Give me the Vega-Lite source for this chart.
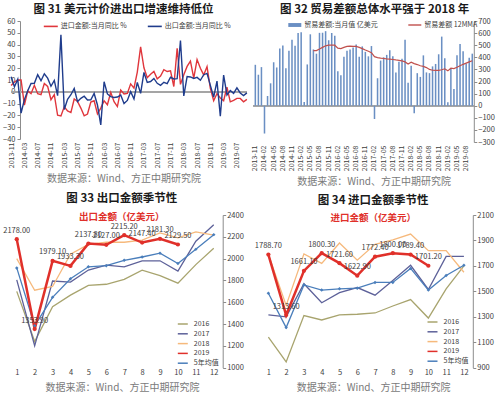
{
"$schema": "https://vega.github.io/schema/vega-lite/v6.json",
"autosize": {"type": "none"},
"padding": {"left": 7.8, "top": 21, "right": 492.2, "bottom": 376},
"background": "white",
"bounds": "flush",
"spacing": 194,
"resolve": {"scale": {"color": "independent", "fill": "independent", "stroke": "independent"}, "legend": {"color": "independent", "fill": "independent", "stroke": "independent"}},
"config": {
  "view": {"stroke": null},
  "font": "Noto Sans CJK SC",
  "title": {"fontSize": 11.5, "fontWeight": "bold", "color": "#1a1a1a", "font": "Noto Sans CJK SC"},
  "axis": {"labelFont": "Noto Sans CJK SC", "labelColor": "#404040", "domainColor": "#8c8c8c", "tickColor": "#8c8c8c", "grid": false, "titleFont": "Noto Sans CJK SC", "titleFontSize": 10, "titleFontWeight": "normal", "titleColor": "#7a7a7a", "labelOverlap": false},
  "legend": {"labelFont": "Noto Sans CJK SC", "labelColor": "#404040", "labelFontSize": 7}
},
"datasets": {
  "p1": [
{"m":"2013-11","imp":5.3,"exp":12.7},{"m":"2013-12","imp":8.3,"exp":4.3},
{"m":"2014-01","imp":10.0,"exp":10.6},{"m":"2014-02","imp":10.1,"exp":-18.1},{"m":"2014-03","imp":-11.3,"exp":-6.6},{"m":"2014-04","imp":0.8,"exp":0.9},{"m":"2014-05","imp":-1.6,"exp":7.0},{"m":"2014-06","imp":5.5,"exp":7.2},{"m":"2014-07","imp":-1.6,"exp":14.5},{"m":"2014-08","imp":-2.4,"exp":9.4},{"m":"2014-09","imp":7.0,"exp":15.3},{"m":"2014-10","imp":4.6,"exp":11.6},{"m":"2014-11","imp":-6.7,"exp":4.7},{"m":"2014-12","imp":-2.4,"exp":9.7},
{"m":"2015-01","imp":-19.9,"exp":-3.3},{"m":"2015-02","imp":-20.5,"exp":48.3},{"m":"2015-03","imp":-12.7,"exp":-15.0},{"m":"2015-04","imp":-16.2,"exp":-6.4},{"m":"2015-05","imp":-17.6,"exp":-2.5},{"m":"2015-06","imp":-6.1,"exp":2.8},{"m":"2015-07","imp":-8.1,"exp":-8.3},{"m":"2015-08","imp":-13.8,"exp":-5.5},{"m":"2015-09","imp":-20.4,"exp":-3.7},{"m":"2015-10","imp":-18.8,"exp":-6.9},{"m":"2015-11","imp":-8.7,"exp":-6.8},{"m":"2015-12","imp":-7.6,"exp":-1.4},
{"m":"2016-01","imp":-18.8,"exp":-11.2},{"m":"2016-02","imp":-13.8,"exp":-28.0},{"m":"2016-03","imp":-7.6,"exp":8.5},{"m":"2016-04","imp":-10.9,"exp":-1.8},{"m":"2016-05","imp":-0.4,"exp":-4.1},{"m":"2016-06","imp":-8.4,"exp":-4.8},{"m":"2016-07","imp":-12.5,"exp":-4.4},{"m":"2016-08","imp":1.5,"exp":-2.8},{"m":"2016-09","imp":-1.9,"exp":-10.0},{"m":"2016-10","imp":-1.4,"exp":-7.3},{"m":"2016-11","imp":6.7,"exp":0.1},{"m":"2016-12","imp":3.1,"exp":-6.1},
{"m":"2017-01","imp":16.7,"exp":7.9},{"m":"2017-02","imp":38.1,"exp":-1.3},{"m":"2017-03","imp":20.3,"exp":16.4},{"m":"2017-04","imp":11.9,"exp":8.0},{"m":"2017-05","imp":14.8,"exp":8.7},{"m":"2017-06","imp":17.2,"exp":11.3},{"m":"2017-07","imp":11.0,"exp":7.2},{"m":"2017-08","imp":13.3,"exp":5.5},{"m":"2017-09","imp":18.7,"exp":8.1},{"m":"2017-10","imp":17.2,"exp":6.9},{"m":"2017-11","imp":17.7,"exp":12.3},{"m":"2017-12","imp":4.5,"exp":10.9},
{"m":"2018-01","imp":36.9,"exp":11.1},{"m":"2018-02","imp":6.3,"exp":43.5},{"m":"2018-03","imp":14.4,"exp":-3.5},{"m":"2018-04","imp":21.5,"exp":12.9},{"m":"2018-05","imp":26.0,"exp":12.6},{"m":"2018-06","imp":11.5,"exp":11.3},{"m":"2018-07","imp":27.3,"exp":12.2},{"m":"2018-08","imp":20.0,"exp":9.8},{"m":"2018-09","imp":14.3,"exp":14.5},{"m":"2018-10","imp":21.4,"exp":15.6},{"m":"2018-11","imp":3.0,"exp":5.4},{"m":"2018-12","imp":-7.6,"exp":-4.4},
{"m":"2019-01","imp":-1.5,"exp":9.1},{"m":"2019-02","imp":-5.2,"exp":-20.7},{"m":"2019-03","imp":-7.6,"exp":14.2},{"m":"2019-04","imp":4.0,"exp":-2.7},{"m":"2019-05","imp":-8.5,"exp":1.1},{"m":"2019-06","imp":-7.3,"exp":-1.3},{"m":"2019-07","imp":-5.6,"exp":3.3},{"m":"2019-08","imp":-5.6,"exp":-1.0},{"m":"2019-09","imp":-8.5,"exp":-3.2},{"m":"2019-10","imp":-6.4,"exp":-0.9}
  ],
  "p2": [
{"m":"2013-11","bal":338},{"m":"2013-12","bal":256},{"m":"2014-01","bal":319},{"m":"2014-02","bal":-230},{"m":"2014-03","bal":80},{"m":"2014-04","bal":185},{"m":"2014-05","bal":359},{"m":"2014-06","bal":316},{"m":"2014-07","bal":473},{"m":"2014-08","bal":498},{"m":"2014-09","bal":310},{"m":"2014-10","bal":454},{"m":"2014-11","bal":545},{"m":"2014-12","bal":496},
{"m":"2015-01","bal":600},{"m":"2015-02","bal":606},{"m":"2015-03","bal":31},{"m":"2015-04","bal":341},{"m":"2015-05","bal":590},{"m":"2015-06","bal":465},{"m":"2015-07","bal":430},{"m":"2015-08","bal":602},{"m":"2015-09","bal":603},{"m":"2015-10","bal":616},{"m":"2015-11","bal":541},{"m":"2015-12","bal":601},
{"m":"2016-01","bal":578},{"m":"2016-02","bal":285},{"m":"2016-03","bal":252},{"m":"2016-04","bal":405},{"m":"2016-05","bal":455},{"m":"2016-06","bal":465},{"m":"2016-07","bal":480},{"m":"2016-08","bal":505},{"m":"2016-09","bal":405},{"m":"2016-10","bal":490},{"m":"2016-11","bal":445},{"m":"2016-12","bal":408},
{"m":"2017-01","bal":493},{"m":"2017-02","bal":-110},{"m":"2017-03","bal":227},{"m":"2017-04","bal":373},{"m":"2017-05","bal":400},{"m":"2017-06","bal":420},{"m":"2017-07","bal":459},{"m":"2017-08","bal":409},{"m":"2017-09","bal":275},{"m":"2017-10","bal":364},{"m":"2017-11","bal":387},{"m":"2017-12","bal":545},
{"m":"2018-01","bal":190},{"m":"2018-02","bal":330},{"m":"2018-03","bal":-62},{"m":"2018-04","bal":269},{"m":"2018-05","bal":238},{"m":"2018-06","bal":416},{"m":"2018-07","bal":275},{"m":"2018-08","bal":269},{"m":"2018-09","bal":325},{"m":"2018-10","bal":345},{"m":"2018-11","bal":425},{"m":"2018-12","bal":571},
{"m":"2019-01","bal":392},{"m":"2019-02","bal":28},{"m":"2019-03","bal":308},{"m":"2019-04","bal":138},{"m":"2019-05","bal":417},{"m":"2019-06","bal":510},{"m":"2019-07","bal":450},{"m":"2019-08","bal":348},{"m":"2019-09","bal":397},{"m":"2019-10","bal":430}
  ],
  "p2ma": [
{"m":"2015-06","ma":455},{"m":"2015-07","ma":455},{"m":"2015-08","ma":468},{"m":"2015-09","ma":482},{"m":"2015-10","ma":495},{"m":"2015-11","ma":500},{"m":"2015-12","ma":500},
{"m":"2016-01","ma":500},{"m":"2016-02","ma":476},{"m":"2016-03","ma":472},{"m":"2016-04","ma":482},{"m":"2016-05","ma":490},{"m":"2016-06","ma":492},{"m":"2016-07","ma":490},{"m":"2016-08","ma":490},{"m":"2016-09","ma":482},{"m":"2016-10","ma":472},{"m":"2016-11","ma":460},{"m":"2016-12","ma":450},
{"m":"2017-01","ma":438},{"m":"2017-02","ma":405},{"m":"2017-03","ma":398},{"m":"2017-04","ma":393},{"m":"2017-05","ma":390},{"m":"2017-06","ma":387},{"m":"2017-07","ma":385},{"m":"2017-08","ma":382},{"m":"2017-09","ma":378},{"m":"2017-10","ma":375},{"m":"2017-11","ma":370},{"m":"2017-12","ma":362},
{"m":"2018-01","ma":345},{"m":"2018-02","ma":360},{"m":"2018-03","ma":348},{"m":"2018-04","ma":340},{"m":"2018-05","ma":330},{"m":"2018-06","ma":325},{"m":"2018-07","ma":315},{"m":"2018-08","ma":300},{"m":"2018-09","ma":293},{"m":"2018-10","ma":292},{"m":"2018-11","ma":292},{"m":"2018-12","ma":297},
{"m":"2019-01","ma":305},{"m":"2019-02","ma":288},{"m":"2019-03","ma":310},{"m":"2019-04","ma":307},{"m":"2019-05","ma":318},{"m":"2019-06","ma":330},{"m":"2019-07","ma":342},{"m":"2019-08","ma":352},{"m":"2019-09","ma":362},{"m":"2019-10","ma":372}
  ],
  "p3": [
{"m":1,"a16":1700,"a17":1805,"a18":2000,"avg":1915},{"m":2,"a16":1240,"a17":1200,"a18":1710,"avg":1385},{"m":3,"a16":1560,"a17":1795,"a18":1745,"avg":1645},{"m":4,"a16":1665,"a17":1785,"a18":2040,"avg":1815},{"m":5,"a16":1755,"a17":1895,"a18":2130,"avg":1925},{"m":6,"a16":1765,"a17":1940,"a18":2150,"avg":1935},{"m":7,"a16":1810,"a17":1925,"a18":2150,"avg":1985},{"m":8,"a16":1895,"a17":1980,"a18":2170,"avg":2015},{"m":9,"a16":1845,"a17":1980,"a18":2235,"avg":2050},{"m":10,"a16":1775,"a17":1885,"a18":2190,"avg":1955},{"m":11,"a16":1945,"a17":2160,"a18":2245,"avg":2085},{"m":12,"a16":2095,"a17":2310,"a18":2215,"avg":2220}
  ],
  "p3x": [
{"m":1,"v":2178.0},{"m":2,"v":1353.9},{"m":3,"v":1979.1},{"m":4,"v":1933.3},{"m":5,"v":2137.8},{"m":6,"v":2127.0},{"m":7,"v":2215.2},{"m":8,"v":2147.4},{"m":9,"v":2181.3},{"m":10,"v":2129.5}
  ],
  "p4": [
{"m":1,"a16":1140,"a17":1315,"a18":1790,"avg":1485},{"m":2,"a16":945,"a17":1300,"a18":1390,"avg":1215},{"m":3,"a16":1310,"a17":1560,"a18":1795,"avg":1550},{"m":4,"a16":1275,"a17":1410,"a18":1720,"avg":1510},{"m":5,"a16":1315,"a17":1490,"a18":1880,"avg":1520},{"m":6,"a16":1320,"a17":1530,"a18":1745,"avg":1525},{"m":7,"a16":1330,"a17":1470,"a18":1870,"avg":1570},{"m":8,"a16":1385,"a17":1585,"a18":1905,"avg":1570},{"m":9,"a16":1435,"a17":1705,"a18":1950,"avg":1680},{"m":10,"a16":1290,"a17":1515,"a18":1820,"avg":1510},{"m":11,"a16":1520,"a17":1775,"a18":1820,"avg":1625},{"m":12,"a16":1700,"a17":1775,"a18":1650,"avg":1705}
  ],
  "p4x": [
{"m":1,"v":1788.7},{"m":2,"v":1313.6},{"m":3,"v":1661.1},{"m":4,"v":1800.3},{"m":5,"v":1721.6},{"m":6,"v":1622.9},{"m":7,"v":1772.4},{"m":8,"v":1800.0},{"m":9,"v":1789.4},{"m":10,"v":1701.2}
  ]
},
"vconcat": [
 {"hconcat": [
  {
   "width": 242.4, "height": 118,
   "title": {"text": "图 31  美元计价进出口增速维持低位", "dx": -5.5, "offset": 2},
   "data": {"name": "p1"},
   "layer": [
    {"mark": {"type": "rule", "color": "#a6a6a6", "strokeWidth": 1},
     "encoding": {"x": {"datum": "2013-11", "type": "ordinal"}, "x2": {"datum": "2019-10"}, "y": {"datum": 0, "type": "quantitative"}}},
    {"mark": {"type": "line", "strokeWidth": 1.4},
     "encoding": {
      "x": {"field": "m", "type": "ordinal", "title": "数据来源：Wind、方正中期研究院",
            "scale": {"type": "point", "padding": 3.973},
            "axis": {"values": ["2013-11","2014-03","2014-07","2014-11","2015-03","2015-07","2015-11","2016-03","2016-07","2016-11","2017-03","2017-07","2017-11","2018-03","2018-07","2018-11","2019-03","2019-07"],
                     "labelAngle": -90, "labelFontSize": 7, "labelOverlap": false, "domain": false, "ticks": false, "labelPadding": 3, "titlePadding": 6, "titleX": 115.7}},
      "y": {"field": "imp", "type": "quantitative", "title": null, "scale": {"domain": [-40, 60], "nice": false},
            "axis": {"orient": "left", "offset": -12.2, "values": [-40,-30,-20,-10,0,10,20,30,40,50,60], "tickCount": 30, "format": "d", "labelOverlap": false, "labelFontSize": 7.5, "tickSize": 3, "labelPadding": 2}},
      "color": {"datum": "进口金额:当月同比 %",
                "scale": {"domain": ["进口金额:当月同比 %", "出口金额:当月同比 %"], "range": ["#e0363c", "#1f3c8c"]},
                "legend": {"orient": "none", "legendX": 35, "legendY": -3, "direction": "horizontal", "title": null, "symbolType": "stroke", "symbolSize": 196, "symbolStrokeWidth": 1.6, "labelOffset": 2, "columnPadding": 17}}
     }},
    {"mark": {"type": "line", "strokeWidth": 1.4},
     "encoding": {
      "x": {"field": "m", "type": "ordinal", "title": "数据来源：Wind、方正中期研究院"},
      "y": {"field": "exp", "type": "quantitative", "title": null},
      "color": {"datum": "出口金额:当月同比 %"}
     }}
   ]
  },
  {
   "width": 220, "height": 121,
   "title": {"text": "图 32  贸易差额总体水平强于 2018 年", "dx": 10.8, "offset": 2},
   "layer": [
    {"data": {"name": "p2"}, "mark": {"type": "rule", "color": "#a6a6a6", "strokeWidth": 1},
     "encoding": {"y": {"datum": 0, "type": "quantitative"}}},
    {"data": {"name": "p2"}, "mark": {"type": "bar"},
     "encoding": {
      "x": {"field": "m", "type": "ordinal", "title": "数据来源：Wind、方正中期研究院",
            "scale": {"type": "band", "paddingInner": 0.5, "paddingOuter": 0.25},
            "axis": {"values": ["2013-11","2014-02","2014-05","2014-08","2014-11","2015-02","2015-05","2015-08","2015-11","2016-02","2016-05","2016-08","2016-11","2017-02","2017-05","2017-08","2017-11","2018-02","2018-05","2018-08","2018-11","2019-02","2019-05","2019-08"],
                     "labelAngle": -90, "labelFontSize": 7, "labelOverlap": false, "domain": false, "ticks": false, "labelPadding": 3, "titlePadding": 6, "titleX": 119.8}},
      "y": {"field": "bal", "type": "quantitative", "title": null, "scale": {"domain": [-300, 700], "nice": false},
            "axis": {"orient": "right", "values": [-300,-200,-100,0,100,200,300,400,500,600,700], "tickCount": 30, "format": "d", "labelOverlap": false, "labelFontSize": 7.5, "tickSize": 3, "labelPadding": 1}},
      "fill": {"datum": "贸易差额:当月值 亿美元", "scale": {"range": ["#6a8fc3"]},
               "legend": {"orient": "none", "legendX": 33.5, "legendY": -3.5, "title": null, "symbolType": "M-1,-0.3L1,-0.3L1,0.3L-1,0.3Z", "symbolSize": 169, "labelOffset": 2}}
     }},
    {"data": {"name": "p2ma"}, "mark": {"type": "line", "strokeWidth": 1.2},
     "encoding": {
      "x": {"field": "m", "type": "ordinal", "title": "数据来源：Wind、方正中期研究院"},
      "y": {"field": "ma", "type": "quantitative", "title": null},
      "stroke": {"datum": "贸易差额 12MMA", "scale": {"range": ["#c0504d"]},
                 "legend": {"orient": "none", "legendX": 153.5, "legendY": -3.5, "title": null, "symbolType": "stroke", "symbolSize": 169, "symbolStrokeWidth": 1.4, "labelOffset": 2}}
     }}
   ],
   "resolve": {"legend": {"fill": "independent", "stroke": "independent"}}
  }
 ], "spacing": 3, "bounds": "flush",
 "resolve": {"scale": {"color": "independent", "fill": "independent", "stroke": "independent"}, "legend": {"color": "independent", "fill": "independent", "stroke": "independent"}}},
 {"hconcat": [
  {
   "width": 214.9, "height": 152.7,
   "title": {"text": "图 33  出口金额季节性", "subtitle": "出口金额（亿美元）", "subtitleColor": "#e0302a", "subtitleFontSize": 9.5, "subtitleFontWeight": "bold", "subtitleFont": "Noto Sans CJK SC", "subtitlePadding": 7, "offset": -10, "dx": 6.5},
   "layer": [
    {"data": {"name": "p3"}, "mark": {"type": "line", "strokeWidth": 1.3},
     "encoding": {
      "x": {"field": "m", "type": "quantitative", "title": "数据来源：Wind、方正中期研究院", "scale": {"domain": [0.5, 12.5], "nice": false, "zero": false},
            "axis": {"values": [1,2,3,4,5,6,7,8,9,10,11,12], "tickCount": 30, "format": "d", "labelOverlap": false, "labelFontSize": 7.5, "domain": false, "ticks": false, "labelPadding": 1, "titlePadding": 6, "titleX": 114.2}},
      "y": {"field": "a16", "type": "quantitative", "title": null, "scale": {"domain": [1000, 2400], "nice": false, "zero": false},
            "axis": {"orient": "right", "values": [1000,1200,1400,1600,1800,2000,2200,2400], "tickCount": 30, "format": "d", "labelOverlap": false, "labelFontSize": 7.5, "tickSize": 3, "labelPadding": 1}},
      "color": {"datum": "2016", "scale": {"domain": ["2016","2017","2018","2019","5年均值"], "range": ["#a8a46e","#5d6199","#f6b97c","#e0302a","#4a7ebb"]},
                "legend": {"orient": "none", "legendX": 169, "legendY": 103, "direction": "vertical", "title": null, "symbolType": "stroke", "symbolSize": 100, "symbolStrokeWidth": 1.5, "labelOffset": 5, "rowPadding": 0.8}}
     }},
    {"data": {"name": "p3"}, "mark": {"type": "line", "strokeWidth": 1.3},
     "encoding": {"x": {"field": "m", "type": "quantitative", "title": "数据来源：Wind、方正中期研究院"}, "y": {"field": "a17", "type": "quantitative", "title": null}, "color": {"datum": "2017"}}},
    {"data": {"name": "p3"}, "mark": {"type": "line", "strokeWidth": 1.3},
     "encoding": {"x": {"field": "m", "type": "quantitative", "title": "数据来源：Wind、方正中期研究院"}, "y": {"field": "a18", "type": "quantitative", "title": null}, "color": {"datum": "2018"}}},
    {"data": {"name": "p3"}, "mark": {"type": "line", "strokeWidth": 1.3},
     "encoding": {"x": {"field": "m", "type": "quantitative", "title": "数据来源：Wind、方正中期研究院"}, "y": {"field": "avg", "type": "quantitative", "title": null}, "color": {"datum": "5年均值"}}},
    {"data": {"name": "p3x"}, "mark": {"type": "line", "strokeWidth": 2.5},
     "encoding": {"x": {"field": "m", "type": "quantitative", "title": "数据来源：Wind、方正中期研究院"}, "y": {"field": "v", "type": "quantitative", "title": null}, "color": {"datum": "2019"}}},
    {"data": {"name": "p3"}, "mark": {"type": "point", "shape": "diamond", "filled": true, "size": 12, "color": "#4a7ebb", "opacity": 1},
     "encoding": {"x": {"field": "m", "type": "quantitative", "title": "数据来源：Wind、方正中期研究院"}, "y": {"field": "avg", "type": "quantitative", "title": null}}},
    {"data": {"name": "p3x"}, "mark": {"type": "point", "shape": "circle", "filled": true, "size": 18, "color": "#e0302a", "opacity": 1},
     "encoding": {"x": {"field": "m", "type": "quantitative", "title": "数据来源：Wind、方正中期研究院"}, "y": {"field": "v", "type": "quantitative", "title": null}}},
    {"data": {"name": "p3x"}, "mark": {"type": "text", "dy": -8.5, "fontSize": 7.5, "color": "#404040", "font": "Noto Sans CJK SC"},
     "encoding": {"x": {"field": "m", "type": "quantitative", "title": "数据来源：Wind、方正中期研究院"}, "y": {"field": "v", "type": "quantitative", "title": null}, "text": {"field": "v", "type": "quantitative", "format": ".2f"}}}
   ]
  },
  {
   "width": 213.3, "height": 152.7,
   "title": {"text": "图 34  进口金额季节性", "subtitle": "进口金额（亿美元）", "subtitleColor": "#e0302a", "subtitleFontSize": 9.5, "subtitleFontWeight": "bold", "subtitleFont": "Noto Sans CJK SC", "subtitlePadding": 6, "offset": -11, "dx": 7},
   "layer": [
    {"data": {"name": "p4"}, "mark": {"type": "line", "strokeWidth": 1.3},
     "encoding": {
      "x": {"field": "m", "type": "quantitative", "title": "数据来源：Wind、方正中期研究院", "scale": {"domain": [0.5, 12.5], "nice": false, "zero": false},
            "axis": {"values": [1,2,3,4,5,6,7,8,9,10,11,12], "tickCount": 30, "format": "d", "labelOverlap": false, "labelFontSize": 7.5, "domain": false, "ticks": false, "labelPadding": 1, "titlePadding": 6, "titleX": 113.6}},
      "y": {"field": "a16", "type": "quantitative", "title": null, "scale": {"domain": [900, 2100], "nice": false, "zero": false},
            "axis": {"orient": "right", "values": [900,1100,1300,1500,1700,1900,2100], "tickCount": 30, "format": "d", "labelOverlap": false, "labelFontSize": 7.5, "tickSize": 3, "labelPadding": 1}},
      "color": {"datum": "2016", "scale": {"domain": ["2016","2017","2018","2019","5年均值"], "range": ["#a8a46e","#5d6199","#f6b97c","#e0302a","#4a7ebb"]},
                "legend": {"orient": "none", "legendX": 167, "legendY": 101, "direction": "vertical", "title": null, "symbolType": "stroke", "symbolSize": 100, "symbolStrokeWidth": 1.5, "labelOffset": 5, "rowPadding": 0.8}}
     }},
    {"data": {"name": "p4"}, "mark": {"type": "line", "strokeWidth": 1.3},
     "encoding": {"x": {"field": "m", "type": "quantitative", "title": "数据来源：Wind、方正中期研究院"}, "y": {"field": "a17", "type": "quantitative", "title": null}, "color": {"datum": "2017"}}},
    {"data": {"name": "p4"}, "mark": {"type": "line", "strokeWidth": 1.3},
     "encoding": {"x": {"field": "m", "type": "quantitative", "title": "数据来源：Wind、方正中期研究院"}, "y": {"field": "a18", "type": "quantitative", "title": null}, "color": {"datum": "2018"}}},
    {"data": {"name": "p4"}, "mark": {"type": "line", "strokeWidth": 1.3},
     "encoding": {"x": {"field": "m", "type": "quantitative", "title": "数据来源：Wind、方正中期研究院"}, "y": {"field": "avg", "type": "quantitative", "title": null}, "color": {"datum": "5年均值"}}},
    {"data": {"name": "p4x"}, "mark": {"type": "line", "strokeWidth": 2.5},
     "encoding": {"x": {"field": "m", "type": "quantitative", "title": "数据来源：Wind、方正中期研究院"}, "y": {"field": "v", "type": "quantitative", "title": null}, "color": {"datum": "2019"}}},
    {"data": {"name": "p4"}, "mark": {"type": "point", "shape": "diamond", "filled": true, "size": 12, "color": "#4a7ebb", "opacity": 1},
     "encoding": {"x": {"field": "m", "type": "quantitative", "title": "数据来源：Wind、方正中期研究院"}, "y": {"field": "avg", "type": "quantitative", "title": null}}},
    {"data": {"name": "p4x"}, "mark": {"type": "point", "shape": "circle", "filled": true, "size": 18, "color": "#e0302a", "opacity": 1},
     "encoding": {"x": {"field": "m", "type": "quantitative", "title": "数据来源：Wind、方正中期研究院"}, "y": {"field": "v", "type": "quantitative", "title": null}}},
    {"data": {"name": "p4x"}, "mark": {"type": "text", "dy": -8.5, "fontSize": 7.5, "color": "#404040", "font": "Noto Sans CJK SC"},
     "encoding": {"x": {"field": "m", "type": "quantitative", "title": "数据来源：Wind、方正中期研究院"}, "y": {"field": "v", "type": "quantitative", "title": null}, "text": {"field": "v", "type": "quantitative", "format": ".2f"}}}
   ]
  }
 ], "spacing": 36.7, "bounds": "flush",
 "resolve": {"scale": {"color": "independent"}, "legend": {"color": "independent"}}}
]
}
